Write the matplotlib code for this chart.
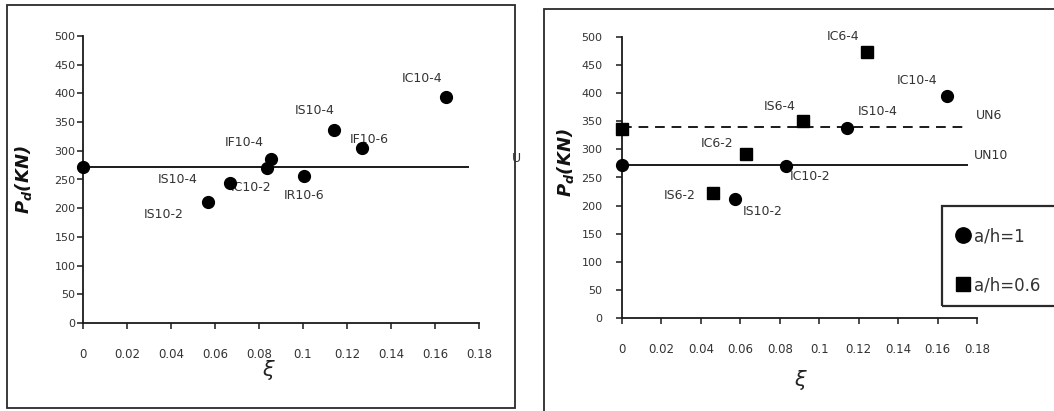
import matplotlib
matplotlib.use("Agg")
import matplotlib.pyplot as plt
from matplotlib.patches import Rectangle
from matplotlib.ticker import FuncFormatter

plt.rcParams["mathtext.default"] = "regular"

# ---------------- data ----------------
# left panel: a/h = 1 specimens
left_x = [0.0, 0.057, 0.067, 0.0836, 0.0855, 0.1005, 0.114, 0.127, 0.165]
left_y = [272, 211, 244, 270, 285, 256, 336, 305, 394]
left_labels = ["", "IS10-2", "IC10-2", "IS10-4", "IF10-4", "IR10-6", "IS10-4", "IF10-6", "IC10-4"]
left_ref = 272          # UN10 reference load
ref_end = 0.175         # extent of reference lines

# right panel
c_x = [0.0, 0.0573, 0.0832, 0.114, 0.165]
c_y = [272, 212, 271, 338, 395]
c_labels = ["", "IS10-2", "IC10-2", "IS10-4", "IC10-4"]
s_x = [0.0, 0.0463, 0.0628, 0.0918, 0.124]
s_y = [337, 223, 291, 351, 473]
s_labels = ["", "IS6-2", "IC6-2", "IS6-4", "IC6-4"]
un10 = 272
un6 = 340
ref_names = ["UN10", "UN6"]
legend_names = ["a/h=1", "a/h=0.6"]

x_ticks = [0, 0.02, 0.04, 0.06, 0.08, 0.1, 0.12, 0.14, 0.16, 0.18]
y_ticks = list(range(0, 501, 50))

# label offsets (points) - styling only
left_offsets = [(0, 0), (-32, -9), (15, -3), (-64, -8), (-19, 12), (0, -14), (-14, 14), (5, 6), (-17, 13)]
c_offsets = [(0, 0), (20, -9), (17, -8), (22, 12), (-22, 11)]
s_offsets = [(0, 0), (-24, -2), (-21, 8), (-17, 10), (-17, 11)]

W, H = 1054, 411
fig = plt.figure(figsize=(W / 100, H / 100), dpi=100)
fig.patch.set_facecolor("white")

TXT = "#333333"


def box(l, t, r, b):
    return [l / W, 1 - b / H, (r - l) / W, (b - t) / H]


# panel borders
for (l, t, r, b) in [(7, 5, 515, 408), (544, 9, 1070, 425)]:
    fig.patches.append(Rectangle((l / W, 1 - b / H), (r - l) / W, (b - t) / H,
                                 transform=fig.transFigure, fill=False,
                                 edgecolor="#2a2a2a", lw=1.3, clip_on=False))


def style(ax, ypad):
    ax.set_xlim(0, 0.18)
    ax.set_ylim(0, 500)
    ax.set_xticks(x_ticks)
    ax.set_yticks(y_ticks)
    ax.xaxis.set_major_formatter(FuncFormatter(lambda v, p: "%g" % round(v, 2)))
    for s in ["top", "right"]:
        ax.spines[s].set_visible(False)
    for s in ["left", "bottom"]:
        ax.spines[s].set_linewidth(1.3)
        ax.spines[s].set_color("#1a1a1a")
    ax.tick_params(axis="x", direction="out", length=4, width=1.1, pad=14,
                   labelsize=8.5, labelcolor=TXT, color="#1a1a1a")
    ax.tick_params(axis="y", direction="out", length=4, width=1.1, pad=ypad,
                   labelsize=8, labelcolor=TXT, color="#1a1a1a")
    ax.patch.set_alpha(0)


# ---------------- left panel ----------------
axL = fig.add_axes(box(83, 36, 479, 323))
style(axL, 1.5)
axL.plot([0, ref_end], [left_ref, left_ref], color="#1a1a1a", lw=1.4, zorder=2)
axL.plot(left_x, left_y, "o", color="black", ms=8.5, clip_on=False, zorder=4, ls="none")
for x, y, t, o in zip(left_x, left_y, left_labels, left_offsets):
    if t:
        axL.annotate(t, (x, y), xytext=o, textcoords="offset points", ha="center", va="center",
                     fontsize=9, color=TXT, zorder=3)
fig.text(512 / W, 1 - 158 / H, "U", fontsize=9, color=TXT, ha="left", va="center")
fig.text(24 / W, 1 - 180 / H, r"$P_d$(KN)", rotation=90, ha="center", va="center",
         fontsize=13, fontweight="bold", fontstyle="italic", color="#111111")
fig.text(268 / W, 1 - 370 / H, "ξ", ha="center", va="center", fontsize=15,
         fontstyle="italic", color="#222222")

# ---------------- right panel ----------------
axR = fig.add_axes(box(622, 37, 977, 318))
style(axR, 10)
axR.plot([0, ref_end], [un10, un10], color="#1a1a1a", lw=1.4, zorder=2)
axR.plot([0, ref_end - 0.002], [un6, un6], color="#1a1a1a", lw=1.4, ls=(0, (5, 3.5)), zorder=2)
hc, = axR.plot(c_x, c_y, "o", color="black", ms=8.5, clip_on=False, zorder=4, ls="none")
hs, = axR.plot(s_x, s_y, "s", color="black", ms=8, clip_on=False, zorder=4, ls="none")
for x, y, t, o in zip(c_x, c_y, c_labels, c_offsets):
    if t:
        axR.annotate(t, (x, y), xytext=o, textcoords="offset points", ha="center", va="center",
                     fontsize=9, color=TXT, zorder=3)
for x, y, t, o in zip(s_x, s_y, s_labels, s_offsets):
    if t:
        axR.annotate(t, (x, y), xytext=o, textcoords="offset points", ha="center", va="center",
                     fontsize=9, color=TXT, zorder=3)
axR.annotate(ref_names[0], (ref_end, un10), xytext=(17, 7), textcoords="offset points",
             ha="center", va="center", fontsize=9, color=TXT, annotation_clip=False)
axR.annotate(ref_names[1], (ref_end, un6), xytext=(16, 8), textcoords="offset points",
             ha="center", va="center", fontsize=9, color=TXT, annotation_clip=False)
fig.text(565 / W, 1 - 163 / H, r"$P_d$(KN)", rotation=90, ha="center", va="center",
         fontsize=13, fontweight="bold", fontstyle="italic", color="#111111")
fig.text(800 / W, 1 - 380 / H, "ξ", ha="center", va="center", fontsize=15,
         fontstyle="italic", color="#222222")

# legend frame (runs off the image) + legend entries
fig.patches.append(Rectangle((942 / W, 1 - 306 / H), 200 / W, 100 / H,
                             transform=fig.transFigure, fill=False,
                             edgecolor="#2a2a2a", lw=1.6, clip_on=False))
leg = fig.legend([hc, hs], legend_names, loc="upper left",
                 bbox_to_anchor=(949 / W, 1 - 219 / H), frameon=False,
                 fontsize=12, markerscale=1.3, handlelength=0.7, handletextpad=0.3,
                 labelspacing=1.85, borderpad=0, labelcolor=TXT)

fig.savefig("out.png", dpi=100)
